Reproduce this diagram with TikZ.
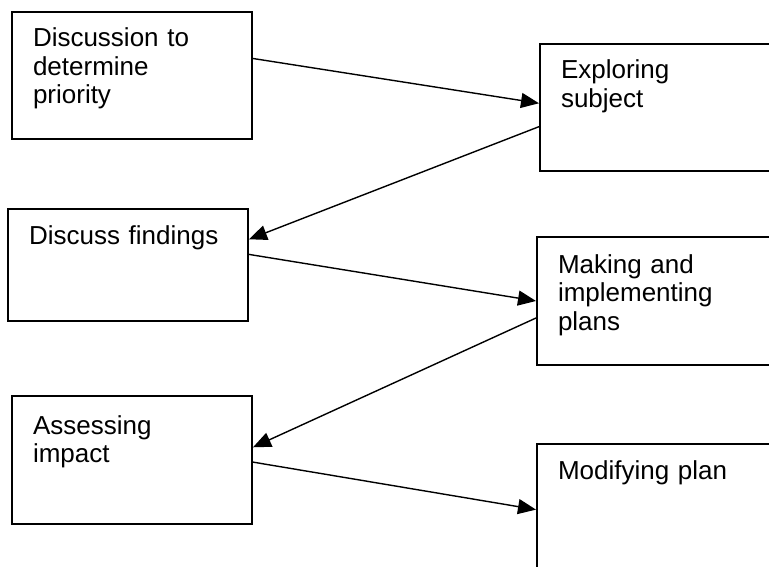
\documentclass[tikz,border=0pt]{standalone}
\usepackage{fontspec}
\setmainfont{Liberation Sans}
\usetikzlibrary{arrows.meta}

\begin{document}
\begin{tikzpicture}[x=1pt, y=-1pt,
  flow/.style={-{Triangle[length=18pt,width=15pt]}, line width=1.4pt},
  stage box/.style={draw, line width=2pt, anchor=north west, inner xsep=21pt, inner ysep=0pt,
    text width=198pt, align=left, text height=35pt, text depth=92pt,
    font=\fontsize{26}{28.5}\selectfont}]
\useasboundingbox (0,0) rectangle (769,567);
\node[stage box]                  (discuss)  at (11,11)  {Discussion to\\determine\\priority};
\node[stage box]                  (explore)  at (539,43) {Exploring\\subject};
\node[stage box, text depth=77pt] (findings) at (7,208)  {Discuss findings};
\node[stage box, text height=36pt]  (plans)    at (536,236) {Making and\\implementing\\plans};
\node[stage box, text height=38pt, text depth=90pt] (impact) at (11,395) {Assessing\\impact};
\node[stage box]                  (modify)   at (536,443) {Modifying plan};
\draw[flow] (discuss.8)   -- (explore.178.6);
\draw[flow] (explore.189) -- (findings.12.4);
\draw[flow] (findings.5)  -- (plans.180);
\draw[flow] (plans.188.5) -- (impact.6.7);
\draw[flow] (impact.359)  -- (modify.181);
\end{tikzpicture}
\end{document}
